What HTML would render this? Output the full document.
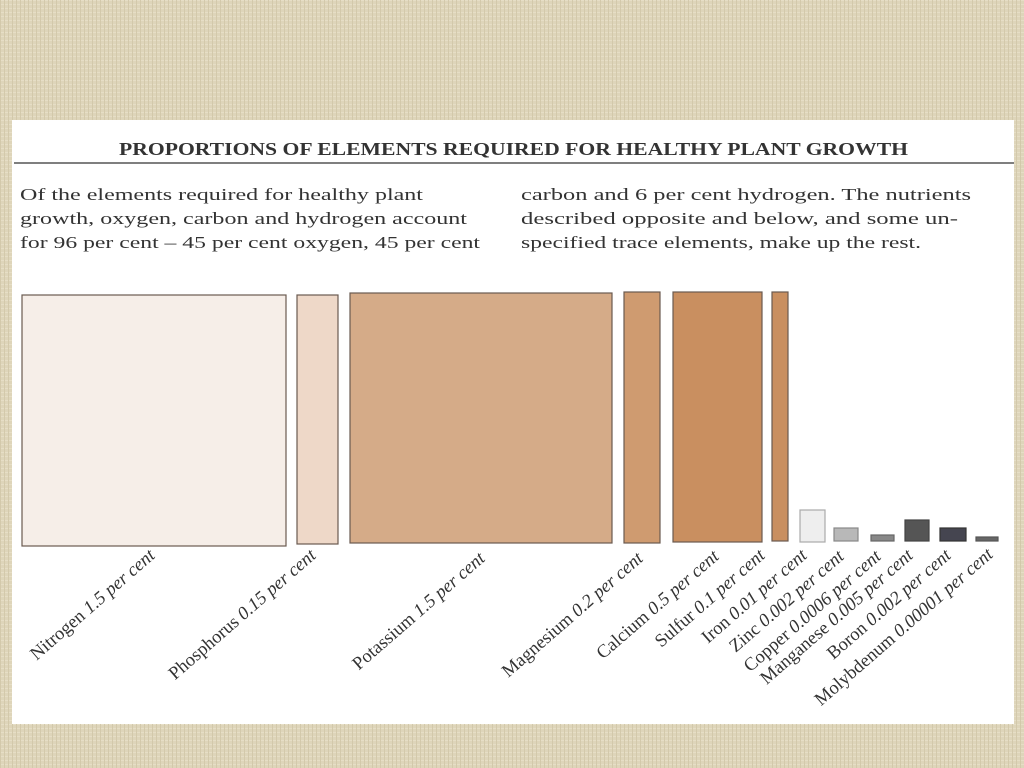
<!DOCTYPE html>
<html><head><meta charset="utf-8"><style>
html,body{margin:0;padding:0;width:1024px;height:768px;overflow:hidden;background:#ddd3b8;}
svg{display:block}
</style></head><body>
<svg width="1024" height="768" viewBox="0 0 1024 768" xmlns="http://www.w3.org/2000/svg">
<defs>
<pattern id="weave" width="4" height="4" patternUnits="userSpaceOnUse">
<rect width="4" height="4" fill="#ded5ba"/>
<rect x="0" y="0" width="4" height="1" fill="#e6dec6"/>
<rect x="0" y="0" width="1" height="4" fill="#d3c9ab"/>
</pattern>
</defs>
<rect width="1024" height="768" fill="url(#weave)"/>
<rect x="12" y="120" width="1002" height="604" fill="#ffffff"/>
<g font-family="'Liberation Serif', serif" fill="#2a2a2a">
<text x="119" y="155" font-size="17.5" font-weight="bold" textLength="789" lengthAdjust="spacingAndGlyphs" fill="#333">PROPORTIONS OF ELEMENTS REQUIRED FOR HEALTHY PLANT GROWTH</text>
<line x1="14" y1="163" x2="1014" y2="163" stroke="#555" stroke-width="1.5"/>
<g font-size="17" fill="#333">
<text x="20" y="200" textLength="403" lengthAdjust="spacingAndGlyphs">Of the elements required for healthy plant</text>
<text x="20" y="224" textLength="447" lengthAdjust="spacingAndGlyphs">growth, oxygen, carbon and hydrogen account</text>
<text x="20" y="248" textLength="460" lengthAdjust="spacingAndGlyphs">for 96 per cent – 45 per cent oxygen, 45 per cent</text>
<text x="521" y="200" textLength="450" lengthAdjust="spacingAndGlyphs">carbon and 6 per cent hydrogen. The nutrients</text>
<text x="521" y="224" textLength="437" lengthAdjust="spacingAndGlyphs">described opposite and below, and some un-</text>
<text x="521" y="248" textLength="400" lengthAdjust="spacingAndGlyphs">specified trace elements, make up the rest.</text>
</g>
</g>
<g stroke="#6a5a50" stroke-width="1.2">
<rect x="22" y="295" width="264" height="251" fill="#f6eee8"/>
<rect x="297" y="295" width="41" height="249" fill="#eed8c8"/>
<rect x="350" y="293" width="262" height="250" fill="#d5ab88"/>
<rect x="624" y="292" width="36" height="251" fill="#cf9b70"/>
<rect x="673" y="292" width="89" height="250" fill="#c98f60"/>
<rect x="772" y="292" width="16" height="249" fill="#c98f60"/>
<rect x="800" y="510" width="25" height="32" fill="#eeeeee" stroke="#aaa"/>
<rect x="834" y="528" width="24" height="13" fill="#b8b8b8" stroke="#888"/>
<rect x="871" y="535" width="23" height="6" fill="#888" stroke="#666"/>
<rect x="905" y="520" width="24" height="21" fill="#555" stroke="#444"/>
<rect x="940" y="528" width="26" height="13" fill="#454550" stroke="#333"/>
<rect x="976" y="537" width="22" height="4" fill="#666" stroke="#555"/>
</g>
<g font-family="'Liberation Serif', serif" font-size="18.5" fill="#333" text-anchor="end">
<text transform="translate(156,557) rotate(-41)">Nitrogen <tspan font-style="italic">1.5 per cent</tspan></text>
<text transform="translate(317,557) rotate(-41)">Phosphorus <tspan font-style="italic">0.15 per cent</tspan></text>
<text transform="translate(486,560) rotate(-41)">Potassium <tspan font-style="italic">1.5 per cent</tspan></text>
<text transform="translate(644,560) rotate(-41)">Magnesium <tspan font-style="italic">0.2 per cent</tspan></text>
<text transform="translate(720,558) rotate(-41)">Calcium <tspan font-style="italic">0.5 per cent</tspan></text>
<text transform="translate(766,557) rotate(-41)">Sulfur <tspan font-style="italic">0.1 per cent</tspan></text>
<text transform="translate(808,557) rotate(-41)">Iron <tspan font-style="italic">0.01 per cent</tspan></text>
<text transform="translate(845,558) rotate(-41)">Zinc <tspan font-style="italic">0.002 per cent</tspan></text>
<text transform="translate(882,558) rotate(-41)">Copper <tspan font-style="italic">0.0006 per cent</tspan></text>
<text transform="translate(914,557) rotate(-41)">Manganese <tspan font-style="italic">0.005 per cent</tspan></text>
<text transform="translate(952,557) rotate(-41)">Boron <tspan font-style="italic">0.002 per cent</tspan></text>
<text transform="translate(994,556) rotate(-41)">Molybdenum <tspan font-style="italic">0.00001 per cent</tspan></text>
</g>
</svg>
</body></html>
